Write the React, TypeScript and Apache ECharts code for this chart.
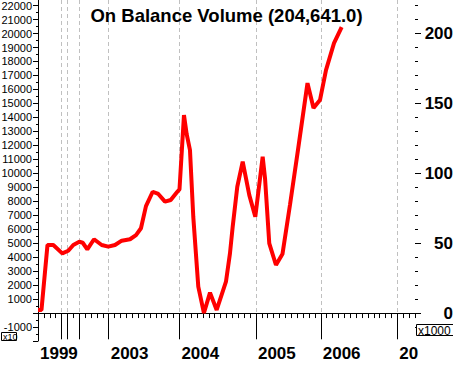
import React, { useEffect, useRef } from "react";
import * as echarts from "echarts";

// ---- data ----
// x axis: evenly spaced trading periods (index 0..64); years begin at these period indices
const periodCount = 65;
const yearIdx = [0, 4, 5, 7, 12, 24, 37, 48, 61];
const yearNames = ["1999", "2000", "2001", "2002", "2003", "2004", "2005", "2006", "2007"];
const shownYears = ["1999", "2003", "2004", "2005", "2006"];
const clippedYear = "2007";

// On Balance Volume (thousands), at period positions
const periodPos = [
  0.0, 0.59, 1.61, 2.6, 4.12, 5.14, 5.99, 7.01, 7.59, 8.37, 9.51, 10.81, 11.93, 13.07,
  14.21, 15.62, 16.64, 17.48, 18.33, 19.47, 20.42, 21.56, 22.53, 23.65, 24.02, 24.78,
  25.24, 25.8, 26.36, 27.21, 28.17, 29.2, 30.33, 31.91, 32.59, 33.05, 33.83, 34.75,
  35.87, 36.89, 38.14, 38.54, 39.26, 40.4, 41.5, 42.78, 44.13, 45.75, 46.77, 47.87,
  48.89, 50.25, 51.55,
];
const obvK = [
  2.2, 2.2, 48.7, 48.7, 42.7, 44.6, 48.7, 51.0, 50.3, 45.6, 52.8, 48.7, 47.5, 48.7,
  51.8, 52.8, 55.8, 60.7, 76.5, 86.8, 85.2, 79.7, 80.9, 86.8, 88.5, 141.7,
  128.0, 116.6, 68.9, 18.9, 0.0, 14.6, 2.2, 22.4, 42.7, 61.8, 90.4, 108.3,
  84.4, 68.9, 111.8, 96.5, 49.9, 34.4, 42.2, 77.5, 116.6, 164.5, 146.7, 152.4,
  173.8, 193.1, 204.641,
];

// left axis (units x10), right axis (units x1000)
const leftLabels = [
  -1000, 1000, 2000, 3000, 4000, 5000, 6000, 7000, 8000, 9000, 10000, 11000, 12000,
  13000, 14000, 15000, 16000, 17000, 18000, 19000, 20000, 21000, 22000,
];
const rightLabels = [0, 50, 100, 150, 200];

const FONT = '"Liberation Sans", Arial, Helvetica, sans-serif';

export default function App() {
  const ref = useRef<HTMLDivElement>(null);

  useEffect(() => {
    if (!ref.current) return;
    const chart = echarts.init(ref.current, undefined, { renderer: "svg" });

    const categories: string[] = [];
    for (let i = 0; i < periodCount; i++) {
      const k = yearIdx.indexOf(i);
      categories.push(k >= 0 ? yearNames[k] : "p" + i);
    }
    const isYear = (i: number) => yearIdx.indexOf(i) >= 0;
    const leftMajor: number[] = [];
    const leftMinor: number[] = [];
    for (let v = -2000; v <= 22000; v += 1000) {
      leftMajor.push(v);
      if (v + 500 <= 22000) leftMinor.push(v + 500);
    }
    const rightMinor: number[] = [];
    for (let v = -10; v <= 220; v += 10) rightMinor.push(v);

    const seriesData = periodPos.map((p, i) => [p, obvK[i]]);

    chart.setOption({
      animation: false,
      title: {
        text: "On Balance Volume (204,641.0)",
        left: "center",
        top: 1,
        textStyle: { fontFamily: FONT, fontSize: 18.5, fontWeight: "bold", color: "#000" },
      },
      grid: {
        left: 38,
        right: 38,
        top: 0,
        bottom: 26,
        containLabel: false,
        outerBoundsMode: "none",
      },
      xAxis: [
        {
          type: "category",
          data: categories,
          boundaryGap: false,
          position: "bottom",
          axisLine: { show: true, lineStyle: { color: "#000", width: 1 } },
          axisTick: { show: true, interval: 0, length: 5, lineStyle: { color: "#000" } },
          axisLabel: { show: false },
          splitLine: { show: false },
        },
        {
          type: "category",
          data: categories,
          boundaryGap: false,
          position: "bottom",
          axisLine: { show: false },
          axisTick: {
            show: true,
            interval: (i: number) => isYear(i) && i !== 0,
            length: 26,
            lineStyle: { color: "#000" },
          },
          axisLabel: {
            show: true,
            interval: (i: number, v: string) => shownYears.indexOf(v) >= 0,
            align: "left",
            padding: [0, 0, 0, 2],
            margin: 4,
            fontFamily: FONT,
            fontSize: 17,
            fontWeight: "bold",
            color: "#000",
          },
          splitLine: {
            show: true,
            interval: (i: number) => isYear(i) && i !== 0,
            lineStyle: { color: "#c0c0c0", type: [4, 3], width: 1 },
          },
        },
        {
          type: "category",
          data: categories,
          boundaryGap: false,
          position: "bottom",
          axisLine: { show: false },
          axisTick: { show: false },
          axisLabel: {
            show: true,
            interval: (i: number, v: string) => v === clippedYear,
            align: "left",
            padding: [0, 0, 0, 2],
            margin: 4,
            width: 22,
            overflow: "truncate",
            ellipsis: "",
            fontFamily: FONT,
            fontSize: 17,
            fontWeight: "bold",
            color: "#000",
          },
          splitLine: { show: false },
        },
        { type: "value", show: false, min: 0, max: periodCount - 1 },
      ],
      yAxis: [
        {
          type: "value",
          position: "left",
          min: -2000,
          max: 22400,
          axisLine: { show: true, lineStyle: { color: "#000", width: 1 } },
          axisTick: { show: true, length: 5, customValues: leftMajor, lineStyle: { color: "#000" } },
          axisLabel: {
            show: true,
            customValues: leftLabels,
            formatter: (v: number) => String(v),
            margin: 6,
            fontFamily: FONT,
            fontSize: 11,
            color: "#000",
          },
          splitLine: { show: false },
        },
        {
          type: "value",
          position: "left",
          min: -2000,
          max: 22400,
          axisLine: { show: false },
          axisTick: { show: true, length: 2, customValues: leftMinor, lineStyle: { color: "#000" } },
          axisLabel: { show: false },
          splitLine: { show: false },
        },
        {
          type: "value",
          position: "right",
          min: -20,
          max: 224,
          axisLine: { show: false },
          axisTick: { show: true, length: 3, customValues: rightMinor, lineStyle: { color: "#000" } },
          axisLabel: { show: false },
          splitLine: { show: false },
        },
        {
          type: "value",
          position: "right",
          min: -20,
          max: 224,
          axisLine: { show: false },
          axisTick: { show: true, length: 6, customValues: rightLabels, lineStyle: { color: "#000" } },
          axisLabel: {
            show: true,
            customValues: rightLabels,
            formatter: (v: number) => String(v),
            align: "right",
            margin: 38,
            fontFamily: FONT,
            fontSize: 17,
            fontWeight: "bold",
            color: "#000",
          },
          splitLine: { show: false },
        },
      ],
      graphic: [
        {
          type: "rect",
          shape: { x: 1.5, y: 332.5, width: 15, height: 8 },
          style: { fill: "#fff", stroke: "#000", lineWidth: 1 },
          z: 10,
        },
        {
          type: "text",
          x: 3,
          y: 332,
          style: { text: "x10", fontFamily: FONT, fontSize: 9, fill: "#000" },
          z: 11,
        },
        {
          type: "rect",
          shape: { x: 416.5, y: 324.5, width: 50, height: 11 },
          style: { fill: "#fff", stroke: "#000", lineWidth: 1 },
          z: 10,
        },
        {
          type: "text",
          x: 418,
          y: 324.5,
          style: { text: "x1000", fontFamily: FONT, fontSize: 12, fill: "#000" },
          z: 11,
        },
      ],
      series: [
        {
          type: "line",
          xAxisIndex: 3,
          yAxisIndex: 2,
          data: seriesData,
          symbol: "none",
          smooth: false,
          lineStyle: { color: "#ff0000", width: 4 },
          itemStyle: { color: "#ff0000" },
        },
      ],
    });

    return () => chart.dispose();
  }, []);

  return (
    <div
      ref={ref}
      style={{ position: "fixed", left: 0, top: 0, width: 453, height: 367, background: "#fff" }}
    />
  );
}
